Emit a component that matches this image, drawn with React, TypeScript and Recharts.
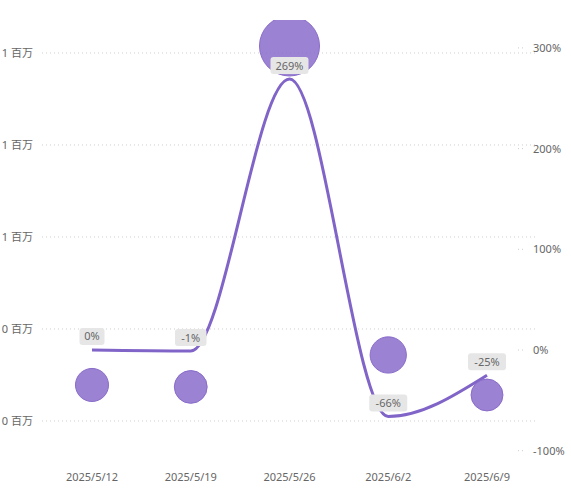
import { ComposedChart, Line, Scatter, XAxis, YAxis, ReferenceLine, LabelList } from "recharts";

const weeks = ["2025/5/12", "2025/5/19", "2025/5/26", "2025/6/2", "2025/6/9"];
const amounts = [278300, 274000, 1015200, 343500, 256500];
const growth = [0, -0.01, 2.69, -0.66, -0.25];
const amountTicks = [200000, 400000, 600000, 800000, 1000000];
const growthTicks = [-1, 0, 1, 2, 3];

const data = weeks.map((week, i) => ({ week, amount: amounts[i], growth: growth[i] }));

const FONT = '"Segoe UI", "Noto Sans", "Noto Sans CJK SC", sans-serif';
const PURPLE = "#8a6cca";
const minA = Math.min(...amounts);
const maxA = Math.max(...amounts);

// bubble area grows linearly with amount
function Bubble(props: any) {
  const { cx, cy, payload } = props;
  if (cx == null || cy == null) return null;
  const area = 800 + ((payload.amount - minA) / (maxA - minA)) * 2030;
  const r = Math.sqrt(area / Math.PI);
  return <circle cx={cx} cy={cy} r={r} fill={PURPLE} fillOpacity={0.85} stroke={PURPLE} strokeWidth={1} />;
}

function PctLabel(props: any) {
  const { x, y, value } = props;
  if (x == null || y == null) return null;
  const text = `${Math.round(value * 100)}%`;
  const w = text.length * 6.5 + 12;
  return (
    <g>
      <rect x={x - w / 2} y={y - 22} width={w} height={17} rx={3} fill="#e6e6e6" />
      <text x={x} y={y - 9.5} textAnchor="middle" fontSize={11} fill="#666" fontFamily={FONT}>
        {text}
      </text>
    </g>
  );
}

function LeftTick(props: any) {
  const { x, y, payload } = props;
  return (
    <text x={x} y={y + 4} textAnchor="end" fontSize={11} fill="#666" fontFamily={FONT}>
      {`${Math.round(payload.value / 1000000)} 百万`}
    </text>
  );
}

function RightTick(props: any) {
  const { x, y, payload } = props;
  return (
    <g>
      <line x1={x - 18} x2={x - 11} y1={y} y2={y} stroke="#ccc" strokeDasharray="1 3" />
      <text x={x - 3} y={y + 4} textAnchor="start" fontSize={11} fill="#666" fontFamily={FONT}>
        {`${Math.round(payload.value * 100)}%`}
      </text>
    </g>
  );
}

export default function App() {
  return (
    <div style={{ position: "absolute", left: 0, top: 0, background: "#fff" }}>
      <ComposedChart width={571} height={493} data={data} margin={{ top: 20, right: 0, bottom: 0, left: 0 }}>
        <XAxis
          dataKey="week"
          height={28}
          axisLine={false}
          tickLine={false}
          padding={{ left: 50, right: 49 }}
          tick={{ fontSize: 11, fill: "#666", fontFamily: FONT }}
          interval={0}
        />
        <YAxis
          yAxisId="left"
          width={42}
          domain={[104300, 1071700]}
          ticks={amountTicks}
          axisLine={false}
          tickLine={false}
          tickSize={0}
          tickMargin={9}
          tick={<LeftTick />}
          allowDataOverflow
        />
        <YAxis
          yAxisId="right"
          orientation="right"
          width={35}
          domain={[-1.142, 3.277]}
          ticks={growthTicks}
          axisLine={false}
          tickLine={false}
          tickSize={0}
          tickMargin={0}
          tick={<RightTick />}
          allowDataOverflow
        />
        {amountTicks.map((t) => (
          <ReferenceLine key={t} yAxisId="left" y={t} stroke="#cfcfcf" strokeDasharray="1 3" />
        ))}
        <Line
          yAxisId="right"
          type="monotone"
          dataKey="growth"
          stroke="#8064c8"
          strokeWidth={3}
          dot={false}
          isAnimationActive={false}
        >
          <LabelList dataKey="growth" content={<PctLabel />} />
        </Line>
        <Scatter yAxisId="left" dataKey="amount" shape={<Bubble />} isAnimationActive={false} />
      </ComposedChart>
    </div>
  );
}
